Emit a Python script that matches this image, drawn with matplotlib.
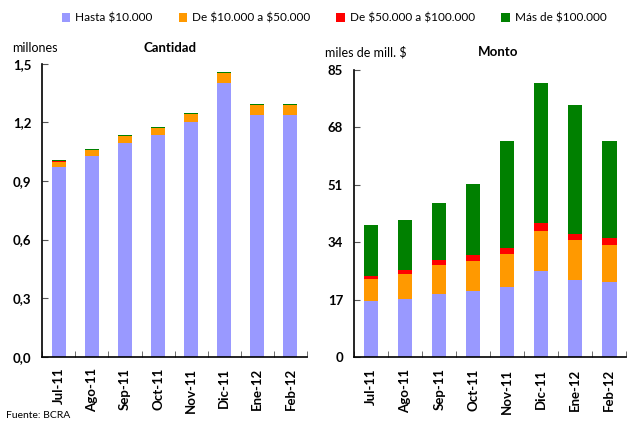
import matplotlib
matplotlib.use("Agg")
import matplotlib.pyplot as plt
from matplotlib.patches import Patch
from matplotlib.ticker import FixedLocator, FuncFormatter
import numpy as np

plt.rcParams['font.family'] = ['Lato', 'DejaVu Sans']
plt.rcParams['text.parse_math'] = False

# data
meses = ['Jul-11', 'Ago-11', 'Sep-11', 'Oct-11', 'Nov-11', 'Dic-11', 'Ene-12', 'Feb-12']
series = ['Hasta $10.000', 'De $10.000 a $50.000', 'De $50.000 a $100.000', 'Más de $100.000']
colores = ['#9999FF', '#FF9900', '#FF0000', '#008000']

# cantidad (millones)
cant_hasta10 = [0.972, 1.029, 1.094, 1.135, 1.203, 1.401, 1.238, 1.238]
cant_10a50 = [0.026, 0.029, 0.036, 0.036, 0.041, 0.052, 0.051, 0.051]
cant_50a100 = [0.004, 0.001, 0.001, 0.001, 0.001, 0.001, 0.001, 0.001]
cant_mas100 = [0.004, 0.005, 0.005, 0.005, 0.005, 0.005, 0.006, 0.006]

# monto (miles de mill. $)
monto_hasta10 = [16.7, 17.2, 18.8, 19.6, 20.8, 25.5, 23.0, 22.4]
monto_10a50 = [6.5, 7.4, 8.5, 8.9, 9.8, 11.9, 11.7, 10.8]
monto_50a100 = [0.8, 1.3, 1.6, 1.8, 1.7, 2.3, 1.8, 2.1]
monto_mas100 = [15.1, 14.7, 16.7, 21.0, 31.7, 41.5, 38.1, 28.7]

cant_ticks = [0.0, 0.3, 0.6, 0.9, 1.2, 1.5]
monto_ticks = [0, 17, 34, 51, 68, 85]


def stacked(ax, capas, ymax, yticks, fmt):
    x = np.arange(len(meses))
    base = np.zeros(len(meses))
    for vals, c in zip(capas, colores):
        ax.bar(x, vals, 0.42, bottom=base, color=c, linewidth=0)
        base = base + np.array(vals)
    ax.set_xlim(-0.5, len(meses) - 0.5)
    ax.set_ylim(0, ymax)
    ax.spines['top'].set_visible(False)
    ax.spines['right'].set_visible(False)
    ax.spines['left'].set_linewidth(1.2)
    ax.spines['bottom'].set_linewidth(1.2)
    ax.set_xticks(x)
    ax.set_xticklabels(meses, rotation=90, fontweight='bold', fontsize=9.5)
    ax.xaxis.set_minor_locator(FixedLocator(np.arange(len(meses) + 1) - 0.5))
    ax.tick_params(axis='x', which='major', length=0, pad=8)
    ax.tick_params(axis='x', which='minor', direction='in', length=4, color='#555555')
    ax.set_yticks(yticks)
    ax.yaxis.set_major_formatter(FuncFormatter(fmt))
    ax.tick_params(axis='y', direction='in', length=4, pad=8, color='#555555')
    for t in ax.get_yticklabels():
        t.set_fontweight('bold')
        t.set_fontsize(9.5)


fig = plt.figure(figsize=(6.27, 4.21), dpi=100)

ax1 = fig.add_axes([0.0675, 0.1527, 0.4221, 0.696])
stacked(ax1, [cant_hasta10, cant_10a50, cant_50a100, cant_mas100], 1.5, cant_ticks,
        lambda v, p: f"{v:.1f}".replace('.', ','))

ax2 = fig.add_axes([0.565, 0.1513, 0.434, 0.6824])
stacked(ax2, [monto_hasta10, monto_10a50, monto_50a100, monto_mas100], 85, monto_ticks,
        lambda v, p: f"{v:.0f}")

fig.text(170 / 627, 1 - 48 / 421, 'Cantidad', ha='center', va='center', fontweight='bold', fontsize=9.5)
fig.text(498 / 627, 1 - 52 / 421, 'Monto', ha='center', va='center', fontweight='bold', fontsize=9.5)
fig.text(12 / 627, 1 - 48 / 421, 'millones', ha='left', va='center', fontsize=9)
fig.text(325 / 627, 1 - 52 / 421, 'miles de mill. $', ha='left', va='center', fontsize=9)
fig.text(6 / 627, 1 - 415 / 421, 'Fuente: BCRA', ha='left', va='center', fontsize=7.5)

handles = [Patch(facecolor=c, edgecolor='none') for c in colores]
fig.legend(handles, series, loc='center', bbox_to_anchor=(334 / 627, 1 - 18 / 421), ncol=4,
           frameon=False, fontsize=8.5, handlelength=0.75, handleheight=0.75,
           handletextpad=0.4, columnspacing=2.2)

fig.savefig('out.png', dpi=100)
